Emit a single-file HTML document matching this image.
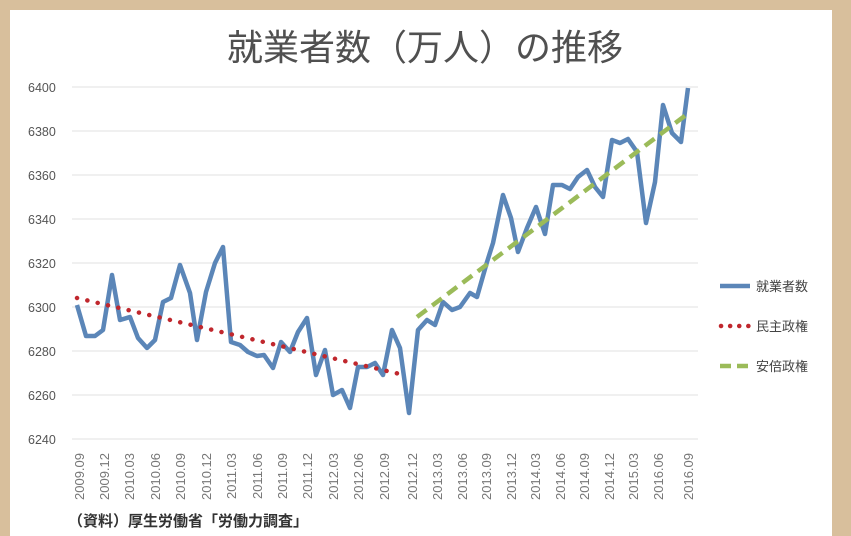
<!DOCTYPE html>
<html><head><meta charset="utf-8"><style>
html,body{margin:0;padding:0;}
body{width:851px;height:536px;background:#d8bf9c;overflow:hidden;position:relative;font-family:"Liberation Sans","Noto Sans CJK JP",sans-serif;}
#panel{position:absolute;left:10px;top:10px;width:822px;height:526px;background:#fff;}
</style></head><body>
<div id="panel"></div>
<svg width="851" height="536" style="position:absolute;left:0;top:0" font-family="Liberation Sans, Noto Sans CJK JP, sans-serif">
<text x="425" y="60" text-anchor="middle" font-size="36" fill="#505050" font-family="Noto Sans CJK JP, sans-serif">就業者数（万人）の推移</text>
<g stroke="#e6e6e6" stroke-width="1.2">
<line x1="72" x2="698" y1="87" y2="87"/><line x1="72" x2="698" y1="131" y2="131"/>
<line x1="72" x2="698" y1="175" y2="175"/><line x1="72" x2="698" y1="219" y2="219"/>
<line x1="72" x2="698" y1="263" y2="263"/><line x1="72" x2="698" y1="307" y2="307"/>
<line x1="72" x2="698" y1="351" y2="351"/><line x1="72" x2="698" y1="395" y2="395"/>
<line x1="72" x2="698" y1="439" y2="439"/>
</g>
<g font-size="12.5" fill="#555" text-anchor="start">
<text x="28" y="92">6400</text><text x="28" y="136">6380</text><text x="28" y="180">6360</text>
<text x="28" y="224">6340</text><text x="28" y="268">6320</text><text x="28" y="312">6300</text>
<text x="28" y="356">6280</text><text x="28" y="400">6260</text><text x="28" y="444">6240</text>
</g>
<g font-size="13" fill="#777" text-anchor="end">
<text transform="translate(84,453) rotate(-90)">2009.09</text>
<text transform="translate(109,453) rotate(-90)">2009.12</text>
<text transform="translate(134,453) rotate(-90)">2010.03</text>
<text transform="translate(160,453) rotate(-90)">2010.06</text>
<text transform="translate(185,453) rotate(-90)">2010.09</text>
<text transform="translate(211,453) rotate(-90)">2010.12</text>
<text transform="translate(236,453) rotate(-90)">2011.03</text>
<text transform="translate(262,453) rotate(-90)">2011.06</text>
<text transform="translate(287,453) rotate(-90)">2011.09</text>
<text transform="translate(312,453) rotate(-90)">2011.12</text>
<text transform="translate(338,453) rotate(-90)">2012.03</text>
<text transform="translate(363,453) rotate(-90)">2012.06</text>
<text transform="translate(389,453) rotate(-90)">2012.09</text>
<text transform="translate(417,453) rotate(-90)">2012.12</text>
<text transform="translate(442,453) rotate(-90)">2013.03</text>
<text transform="translate(467,453) rotate(-90)">2013.06</text>
<text transform="translate(491,453) rotate(-90)">2013.09</text>
<text transform="translate(516,453) rotate(-90)">2013.12</text>
<text transform="translate(540,453) rotate(-90)">2014.03</text>
<text transform="translate(565,453) rotate(-90)">2014.06</text>
<text transform="translate(589,453) rotate(-90)">2014.09</text>
<text transform="translate(614,453) rotate(-90)">2014.12</text>
<text transform="translate(638,453) rotate(-90)">2015.03</text>
<text transform="translate(663,453) rotate(-90)">2016.06</text>
<text transform="translate(693,453) rotate(-90)">2016.09</text>
</g>
<polyline fill="none" stroke="#5b86b8" stroke-width="4.5" stroke-linejoin="round" points="77,305 86,336 95,336 103,330 112,275 120,320 130,317 138,338 147,348 155,340 163,302 171,298 180,265 190,293 197,340 206,292 215,263 223,247 231,342 240,345 248,352 257,356 264,355 273,368 281,342 290,352 298,332 307,318 316,375 325,350 333,395 342,390 350,408 358,367 367,367 375,363 383,375 392,330 400,348 409,413 418,330 427,320 435,325 443,302 452,310 460,307 470,293 477,297 487,262 493,243 503,195 511,218 518,252 527,228 536,207 545,234 553,185 562,185 570,189 578,177 587,170 595,187 603,197 612,140 620,143 628,139 637,152 646,223 655,182 663,105 672,133 681,142 688,88"/>
<line x1="77" y1="298" x2="404" y2="375" stroke="#c0272d" stroke-width="4.5" stroke-linecap="round" stroke-dasharray="0.1 10.5"/>
<line x1="417" y1="317" x2="690" y2="112" stroke="#9bbb59" stroke-width="4.5" stroke-dasharray="12 7"/>
<line x1="720" y1="286" x2="750" y2="286" stroke="#5b86b8" stroke-width="4.5"/>
<text x="756" y="291" font-size="13" fill="#444">就業者数</text>
<line x1="721" y1="326" x2="750" y2="326" stroke="#c0272d" stroke-width="4.5" stroke-linecap="round" stroke-dasharray="0.1 9"/>
<text x="756" y="331" font-size="13" fill="#444">民主政権</text>
<line x1="720" y1="366" x2="750" y2="366" stroke="#9bbb59" stroke-width="4.5" stroke-dasharray="11 6"/>
<text x="756" y="371" font-size="13" fill="#444">安倍政権</text>
<text x="68" y="526" font-size="15" fill="#333" font-weight="bold" font-family="Noto Sans CJK JP, sans-serif">（資料）厚生労働省「労働力調査」</text>
</svg>
</body></html>
